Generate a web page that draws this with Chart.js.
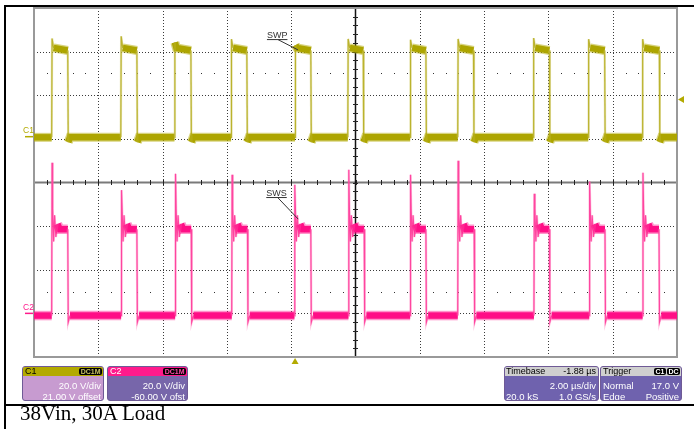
<!DOCTYPE html>
<html><head><meta charset="utf-8">
<script src="https://cdn.jsdelivr.net/npm/chart.js@4"></script>
<style>
html,body{margin:0;padding:0;background:#fff;}
body{width:694px;height:429px;position:relative;overflow:hidden;font-family:"Liberation Sans",Arial,sans-serif;}
#c{position:absolute;left:0;top:0;}
.bl{position:absolute;background:#000;}
.pn{position:absolute;top:366px;height:35px;border:1px solid #6f5a96;border-radius:3px;overflow:hidden;color:#fff;font-size:9.5px;line-height:10px;box-sizing:border-box;}
.hd{position:absolute;left:0;right:0;top:0;height:9px;font-size:9px;line-height:9px;}
.r{position:absolute;white-space:nowrap;}
.bd{position:absolute;top:1px;height:7px;background:#000;border-radius:2px;font-size:7px;line-height:7px;padding:0 1.5px;font-weight:bold;}
#cap{position:absolute;left:20px;top:403px;font-family:"Liberation Serif","Times New Roman",serif;font-size:21px;line-height:21px;color:#000;white-space:nowrap;}
</style></head>
<body>
<canvas id="c" width="694" height="429"></canvas>
<div class="bl" style="left:4px;top:5px;right:0;height:2px"></div>
<div class="bl" style="left:4px;top:5px;bottom:0;width:2px"></div>
<div class="bl" style="left:4px;top:404px;right:0;height:2px"></div>

<div class="pn" style="left:22px;width:82px;background:#c79bd0;">
  <div class="hd" style="background:#b3aa00;color:#000"><span class="r" style="left:2px">C1</span><span class="bd" style="right:1px;color:#c8c060">DC1M</span></div>
  <span class="r" style="right:2px;top:14px">20.0 V/div</span>
  <span class="r" style="right:2px;top:25px">21.00 V offset</span>
</div>
<div class="pn" style="left:107px;width:81px;background:#7766aa;">
  <div class="hd" style="background:#ff1a8c;color:#fff"><span class="r" style="left:2px">C2</span><span class="bd" style="right:1px;color:#ff4aa8">DC1M</span></div>
  <span class="r" style="right:2px;top:14px">20.0 V/div</span>
  <span class="r" style="right:2px;top:25px">-60.00 V ofst</span>
</div>
<div class="pn" style="left:504px;width:95px;background:#6f62ae;">
  <div class="hd" style="background:#cfcfcf;color:#000"><span class="r" style="left:1px">Timebase</span><span class="r" style="right:2px">-1.88 µs</span></div>
  <span class="r" style="right:2px;top:14px">2.00 µs/div</span>
  <span class="r" style="left:1px;top:25px">20.0 kS</span>
  <span class="r" style="right:2px;top:25px">1.0 GS/s</span>
</div>
<div class="pn" style="left:600px;width:82px;background:#6f62ae;">
  <div class="hd" style="background:#cfcfcf;color:#000"><span class="r" style="left:2px">Trigger</span><span class="bd" style="right:15px;color:#fff">C1</span><span class="bd" style="right:1px;color:#fff">DC</span></div>
  <span class="r" style="left:2px;top:14px">Normal</span>
  <span class="r" style="right:2px;top:14px">17.0 V</span>
  <span class="r" style="left:2px;top:25px">Edge</span>
  <span class="r" style="right:2px;top:25px">Positive</span>
</div>
<div id="cap">38Vin, 30A Load</div>

<script>
// ---- data (time in µs relative to trigger, values in volts) ----
const timeRange = [-8.12, 11.88];
const c1Rise  = [-7.57,-5.42,-3.75,-1.99, 0.00, 1.64, 3.58, 5.06, 7.41, 9.12,10.80];
const c1Fall  = [-7.07,-4.92,-3.24,-1.50, 0.49, 2.12, 4.07, 5.55, 7.91, 9.63,11.33];
const c1Spike = [45.0, 46.0, 43.2, 44.7, 42.0, 44.8, 44.4, 44.8, 45.2, 44.7, 44.7];
const c1Levels = [-0.3, 39.5];      // low, high
const c1Under = -2.5;
const c2Rise  = [-7.57,-5.41,-3.73,-1.97,-0.02, 1.66, 3.58, 5.06, 7.43, 9.15,10.81];
const c2Fall  = [-7.07,-4.92,-3.23,-1.48, 0.49, 2.15, 4.07, 5.57, 7.91, 9.64,11.32];
const c2Spike = [69.0, 56.5, 64.0, 63.5, 59.0, 65.8, 63.5, 70.0, 54.8, 60.4, 64.5];
const c2Levels = [-1.0, 38.6];
const c2Ring = [48, 33, 45, 35, 41];
const c2Under = -4.0;
const voltsPerDiv = [20, 20];
const offsets = [21, -60];
const triggerLevel = 17.0;
const triggerTime = 0;
const labels = [
  {text:'SWP', axis:'y1', t:0.09, v:39.8, dx:-31, dy:-12.3, ux:-20},
  {text:'SWS', axis:'y2', t:0.10, v:43.2, dx:-32, dy:-23.6, ux:-20.6}
];

function buildC1(){
  const [lo,hi]=c1Levels; const p=[{x:timeRange[0],y:lo}];
  c1Rise.forEach((r,i)=>{
    const f=c1Fall[i];
    p.push({x:r,y:lo},{x:r+0.012,y:c1Spike[i]},{x:r+0.06,y:hi+1.2},{x:f,y:hi},{x:f+0.015,y:c1Under},{x:f+0.07,y:lo});
  });
  p.push({x:timeRange[1],y:lo}); return p;
}
function buildC2(){
  const [lo,hi]=c2Levels; const p=[{x:timeRange[0],y:lo}];
  c2Rise.forEach((r,i)=>{
    const f=c2Fall[i];
    p.push({x:r,y:lo},{x:r+0.012,y:c2Spike[i]},
      {x:r+0.03,y:c2Ring[0]},{x:r+0.06,y:c2Ring[1]},{x:r+0.09,y:c2Ring[2]},{x:r+0.13,y:c2Ring[3]},{x:r+0.18,y:c2Ring[4]},
      {x:r+0.25,y:hi},{x:f,y:hi},{x:f+0.015,y:c2Under},{x:f+0.07,y:lo});
  });
  p.push({x:timeRange[1],y:lo}); return p;
}
const flat = ctx => Math.abs(ctx.p0.parsed.y-ctx.p1.parsed.y) < 3;
function ds(data, axis, color, wFlat, wEdge, edgeColor){
  return {data, yAxisID:axis, borderColor:color, pointRadius:0, tension:0, fill:false,
    borderWidth:wEdge, borderCapStyle:'butt', borderJoinStyle:'miter',
    segment:{borderWidth: c => flat(c)?wFlat:wEdge, borderColor: c => flat(c)?color:edgeColor}};
}
const c1 = buildC1(), c2 = buildC2();

const scopeGrid = {
  id:'scopeGrid',
  beforeDatasetsDraw(chart){
    const {ctx, chartArea:a} = chart;
    const dx=(a.right-a.left)/10, dy=(a.bottom-a.top)/8;
    ctx.save();
    const line=(x1,y1,x2,y2)=>{ctx.beginPath();ctx.moveTo(x1,y1);ctx.lineTo(x2,y2);ctx.stroke();};
    ctx.strokeStyle='#3a3a3a'; ctx.lineWidth=1; ctx.setLineDash([1,2]);
    for(let i=1;i<10;i++){ if(i===5) continue; const x=Math.round(a.left+i*dx)+0.5; line(x,a.top,x,a.bottom); }
    for(let j=1;j<8;j++){ if(j===4) continue; const y=Math.round(a.top+j*dy)+0.5; line(a.left,y,a.right,y); }
    ctx.setLineDash([]);
    ctx.fillStyle='#333';
    for(const j of [1.5,6.5]){
      const y=Math.round(a.top+j*dy);
      for(let k=1;k<50;k++){ if(k%5===0) continue; ctx.fillRect(Math.round(a.left+k*dx/5),y,1,1); }
    }
    const cx=a.left+5*dx, cy=a.top+4*dy;
    ctx.strokeStyle='#7a7a7a'; ctx.lineWidth=2; line(a.left,cy,a.right,cy);
    ctx.strokeStyle='#111'; ctx.lineWidth=1.5; line(cx,a.top,cx,a.bottom);
    ctx.strokeStyle='#222'; ctx.lineWidth=1;
    for(let k=1;k<50;k++){ const x=Math.round(a.left+k*dx/5)+0.5; line(x,cy-2.5,x,cy+2.5); }
    for(let k=1;k<40;k++){ const y=Math.round(a.top+k*dy/5)+0.5; line(cx-2.5,y,cx+2.5,y); }
    ctx.strokeStyle='#999'; ctx.lineWidth=2;
    ctx.strokeRect(a.left,a.top,a.right-a.left,a.bottom-a.top);
    ctx.restore();
  },
  afterDatasetsDraw(chart){
    const {ctx, chartArea:a, scales} = chart;
    ctx.save();
    const marks=[['C1','y1','#b3aa00'],['C2','y2','#ff1a8c']];
    ctx.font='8.5px "Liberation Sans", Arial, sans-serif';
    for(const [t,ax,col] of marks){
      const y=scales[ax].getPixelForValue(0);
      ctx.fillStyle=col; ctx.strokeStyle=col; ctx.lineWidth=1.5;
      ctx.fillText(t,a.left-11,y-3.5);
      ctx.beginPath(); ctx.moveTo(a.left-9,y); ctx.lineTo(a.left-1,y); ctx.stroke();
    }
    ctx.fillStyle='#b3aa00';
    const ty=scales.y1.getPixelForValue(triggerLevel);
    ctx.beginPath(); ctx.moveTo(a.right+1,ty); ctx.lineTo(a.right+7,ty-3.5); ctx.lineTo(a.right+7,ty+3.5); ctx.closePath(); ctx.fill();
    const tx=scales.x.getPixelForValue(triggerTime);
    ctx.beginPath(); ctx.moveTo(tx,a.bottom+1); ctx.lineTo(tx-3.5,a.bottom+7); ctx.lineTo(tx+3.5,a.bottom+7); ctx.closePath(); ctx.fill();
    ctx.font='9px "Liberation Sans", Arial, sans-serif';
    ctx.fillStyle='#333'; ctx.strokeStyle='#333'; ctx.lineWidth=1;
    for(const l of labels){
      const x=scales.x.getPixelForValue(l.t), y=scales[l.axis].getPixelForValue(l.v);
      const lx=x+l.dx, ly=y+l.dy;
      ctx.fillText(l.text,lx,ly);
      const w=ctx.measureText(l.text).width;
      ctx.beginPath(); ctx.moveTo(lx,ly+2); ctx.lineTo(lx+w,ly+2); ctx.stroke();
      ctx.beginPath(); ctx.moveTo(x+l.ux,ly+2); ctx.lineTo(x,y); ctx.stroke();
    }
    ctx.restore();
  }
};

new Chart(document.getElementById('c'), {
  type:'line',
  data:{datasets:[
    ds(c1,'y1','rgba(178,170,0,0.5)',9,2.4,'rgba(200,192,90,0.4)'),
    ds(c1,'y1','#a9a100',6.5,1.2,'#b3ab10'),
    ds(c2,'y2','rgba(255,20,140,0.45)',9.5,2.4,'rgba(255,110,180,0.4)'),
    ds(c2,'y2','#ff0a82',6.5,1.2,'#ff2a92')
  ]},
  options:{
    responsive:false, animation:false, events:[],
    layout:{padding:{left:34,top:8,right:17,bottom:72}},
    plugins:{legend:{display:false},tooltip:{enabled:false}},
    scales:{
      x:{type:'linear',min:timeRange[0],max:timeRange[1],display:false},
      y1:{type:'linear',min:-4*voltsPerDiv[0]-offsets[0],max:4*voltsPerDiv[0]-offsets[0],display:false},
      y2:{type:'linear',min:-4*voltsPerDiv[1]-offsets[1],max:4*voltsPerDiv[1]-offsets[1],display:false}
    }
  },
  plugins:[scopeGrid]
});
</script>
</body></html>
